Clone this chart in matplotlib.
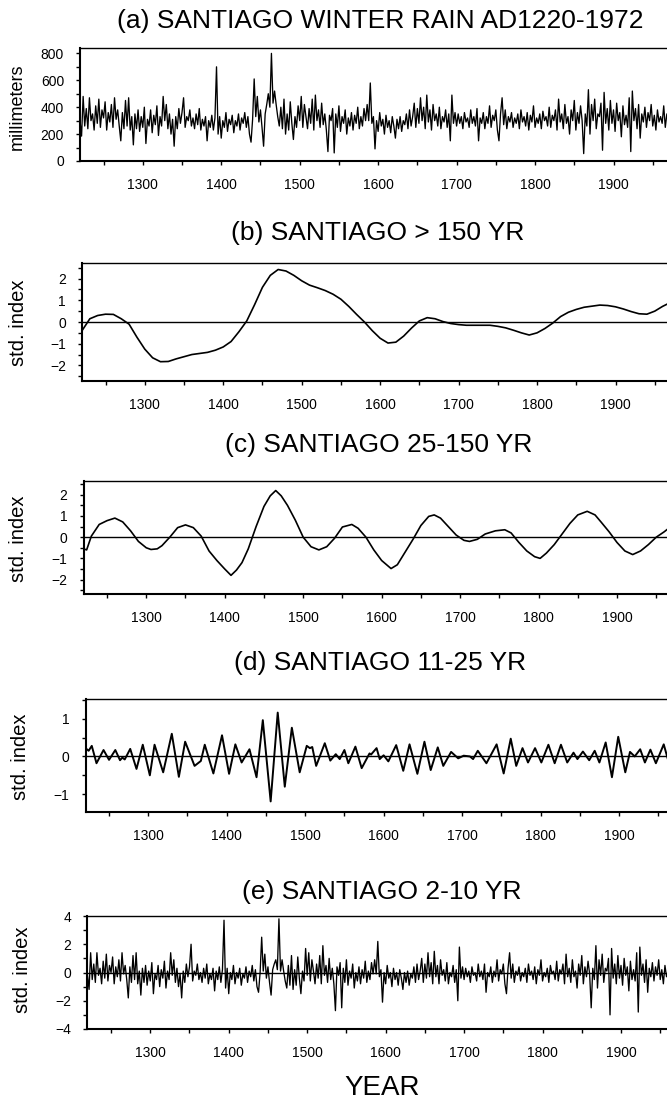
import numpy as np
import matplotlib.pyplot as plt
from matplotlib.ticker import MultipleLocator

plt.rcParams['font.family'] = ['Liberation Sans', 'DejaVu Sans']

# ---- data -------------------------------------------------------------
# (a) winter rain, mm, one value every second year from AD1220
rain_mm = [
    300, 185, 480, 260, 390, 240, 470, 300, 350, 230, 410, 280, 460, 250, 380, 320, 440, 230, 360, 290,
    420, 250, 470, 310, 380, 260, 150, 360, 240, 450, 260, 470, 230, 330, 120, 350, 240, 380, 220, 330,
    250, 400, 130, 310, 260, 380, 210, 340, 270, 410, 190, 330, 260, 480, 300, 420, 240, 350, 200, 310,
    110, 330, 240, 390, 280, 360, 470, 250, 330, 300, 380, 260, 320, 240, 350, 270, 390, 230, 310, 260,
    330, 150, 300, 250, 340, 230, 320, 700, 200, 330, 170, 300, 250, 360, 220, 310, 270, 340, 210, 300,
    260, 350, 230, 320, 280, 360, 250, 330, 200, 140, 310, 610, 330, 480, 290, 380, 250, 110, 350, 420,
    500, 400, 800, 430, 520, 420, 330, 260, 400, 240, 460, 200, 350, 230, 440, 280, 160, 330, 250, 410,
    300, 480, 250, 420, 330, 240, 390, 280, 460, 230, 490, 300, 380, 250, 430, 270, 350, 230, 70, 340,
    300, 390, 60, 350, 250, 410, 220, 330, 280, 380, 200, 320, 260, 360, 230, 340, 280, 400, 240, 330,
    260, 390, 300, 420, 300, 580, 280, 330, 90, 300, 220, 360, 260, 310, 200, 340, 250, 300, 210, 330,
    260, 170, 310, 240, 330, 220, 300, 270, 350, 240, 380, 260, 330, 430, 250, 390, 280, 470, 300, 400,
    240, 490, 290, 380, 230, 420, 300, 350, 260, 400, 240, 330, 290, 380, 250, 350, 150, 490, 280, 360,
    260, 350, 280, 330, 240, 360, 290, 320, 250, 380, 280, 330, 260, 390, 150, 320, 280, 360, 240, 330,
    280, 410, 250, 340, 300, 380, 230, 150, 350, 470, 270, 380, 240, 330, 290, 360, 250, 320, 280, 350,
    240, 380, 290, 330, 260, 360, 230, 340, 290, 410, 250, 320, 280, 350, 240, 370, 300, 330, 260, 400,
    250, 340, 300, 380, 230, 460, 290, 350, 240, 420, 280, 330, 200, 380, 300, 450, 230, 360, 280, 410,
    300, 55, 350, 260, 530, 200, 420, 300, 460, 240, 350, 330, 430, 80, 510, 280, 390, 230, 450, 280,
    380, 220, 430, 300, 360, 180, 410, 270, 340, 250, 470, 70, 520, 300, 390, 240, 420, 170, 350, 290,
    400, 250, 360, 300, 420, 260, 340, 230, 380, 290, 330, 280, 410, 250, 350, 300, 330,
]

# (b) > 150 yr component, every 10 years
low_years = list(range(1220, 1971, 10))
low_index = [
    -0.40, 0.15, 0.30, 0.36, 0.35, 0.15, -0.10, -0.70, -1.25, -1.65,
    -1.83, -1.82, -1.70, -1.60, -1.50, -1.45, -1.40, -1.30, -1.15, -0.90,
    -0.45, 0.05, 0.80, 1.60, 2.15, 2.42, 2.35, 2.15, 1.90, 1.70,
    1.58, 1.45, 1.28, 1.05, 0.72, 0.35, 0.00, -0.40, -0.75, -0.97,
    -0.93, -0.65, -0.28, 0.05, 0.20, 0.15, 0.02, -0.07, -0.12, -0.15,
    -0.15, -0.15, -0.15, -0.20, -0.27, -0.38, -0.50, -0.60, -0.50, -0.30,
    -0.05, 0.25, 0.45, 0.58, 0.68, 0.73, 0.78, 0.76, 0.70, 0.60,
    0.48, 0.38, 0.36, 0.50, 0.72, 0.90,
]

# (c) 25-150 yr component
mid_years = [
    1220, 1224, 1230, 1240, 1250, 1260, 1270, 1280, 1290, 1300, 1306, 1314, 1320, 1330, 1340,
    1350, 1360, 1370, 1380, 1390, 1400, 1408, 1415, 1422, 1430, 1440, 1450, 1458, 1465, 1472,
    1480, 1490, 1500, 1510, 1520, 1530, 1540, 1550, 1562, 1570, 1580, 1590, 1600, 1612, 1620,
    1630, 1640, 1650, 1660, 1667, 1675, 1685, 1695, 1705, 1712, 1722, 1732, 1745, 1757, 1765,
    1775, 1785, 1795, 1802, 1810, 1820, 1830, 1840, 1850, 1862, 1872, 1880, 1890, 1900, 1910,
    1920, 1930, 1940, 1950, 1960, 1972,
]
mid_index = [
    -0.55, -0.60, 0.05, 0.60, 0.78, 0.90, 0.72, 0.30, -0.20, -0.50, -0.58, -0.55, -0.40, 0.00, 0.45,
    0.58, 0.45, 0.05, -0.65, -1.10, -1.50, -1.80, -1.55, -1.20, -0.55, 0.50, 1.45, 1.95, 2.20, 1.95,
    1.50, 0.80, 0.00, -0.45, -0.60, -0.45, -0.05, 0.48, 0.60, 0.42, 0.00, -0.60, -1.10, -1.48, -1.30,
    -0.70, -0.10, 0.55, 0.98, 1.05, 0.90, 0.50, 0.10, -0.15, -0.20, -0.10, 0.15, 0.30, 0.35, 0.20,
    -0.25, -0.65, -0.92, -1.00, -0.75, -0.35, 0.15, 0.65, 1.05, 1.22, 1.05, 0.70, 0.25, -0.25, -0.65,
    -0.82, -0.65, -0.35, 0.00, 0.25, 0.60,
]

# (d) 11-25 yr component, turning points
dec_years = [
    1220, 1224, 1228, 1234, 1243, 1250, 1258, 1264, 1267, 1270, 1277, 1285, 1293, 1302, 1308,
    1319, 1330, 1339, 1347, 1359, 1367, 1372, 1383, 1394, 1403, 1411, 1419, 1429, 1438, 1446,
    1456, 1465, 1474, 1483, 1493, 1502, 1506, 1509, 1514, 1525, 1532, 1539, 1544, 1550, 1555,
    1564, 1572, 1582, 1584, 1586, 1591, 1595, 1600, 1606, 1616, 1625, 1633, 1643, 1652, 1660,
    1669, 1676, 1686, 1695, 1702, 1710, 1714, 1720, 1731, 1744, 1753, 1762, 1769, 1777, 1784,
    1793, 1801, 1810, 1818, 1826, 1834, 1842, 1847, 1854, 1862, 1869, 1875, 1883, 1891, 1899,
    1908, 1914, 1920, 1927, 1933, 1940, 1947, 1957, 1964, 1972,
]
dec_index = [
    0.22, 0.15, 0.28, -0.18, 0.17, -0.09, 0.17, -0.10, -0.03, -0.08, 0.20, -0.33, 0.31, -0.50, 0.31,
    -0.42, 0.60, -0.54, 0.39, -0.25, -0.12, 0.31, -0.45, 0.56, -0.46, 0.32, -0.16, 0.19, -0.55, 0.96,
    -1.19, 1.16, -0.80, 0.76, -0.42, 0.28, 0.22, 0.25, -0.25, 0.35, -0.11, 0.06, -0.07, 0.17, -0.18,
    0.26, -0.31, 0.08, 0.05, 0.10, 0.22, -0.07, 0.03, -0.13, 0.30, -0.38, 0.32, -0.46, 0.39, -0.36,
    0.24, -0.25, 0.12, -0.05, 0.02, 0.00, -0.07, 0.15, -0.18, 0.32, -0.45, 0.47, -0.25, 0.22, -0.16,
    0.22, -0.16, 0.31, -0.18, 0.31, -0.16, 0.10, -0.07, 0.13, -0.10, 0.15, -0.16, 0.37, -0.55, 0.52,
    -0.42, 0.12, 0.00, 0.19, -0.16, 0.18, -0.18, 0.32, -0.20, 0.15,
]

# (e) 2-10 yr component, every second year from AD1220
hi_index = [
    -0.2, -1.2, 1.4, -0.5, 0.6, -0.7, 1.4, -0.2, 0.3, -0.8, 0.8, -0.4, 1.3, -0.6, 0.5, 0.0, 1.1, -0.8, 0.4, -0.3,
    0.9, -0.6, 1.4, -0.1, 0.5, -0.5, -1.8, 0.4, -0.7, 1.2, -0.5, 1.4, -0.8, 0.1, -1.6, 0.3, -0.7, 0.5, -0.9, 0.1,
    -0.6, 0.7, -1.5, -0.1, -0.5, 0.5, -1.0, 0.2, -0.4, 0.8, -1.1, 0.1, -0.5, 1.4, -0.2, 0.9, -0.7, 0.3, -1.0, -0.1,
    -1.8, 0.1, -0.7, 0.6, -0.3, 0.4, 2.0, -0.6, 0.1, -0.2, 0.6, -0.5, 0.0, -0.7, 0.3, -0.4, 0.6, -0.8, -0.1, -0.5,
    0.3, -1.3, 0.1, -0.5, 0.4, -0.7, 0.2, 3.7, -1.1, 0.3, -1.5, 0.0, -0.5, 0.5, -0.8, 0.0, -0.4, 0.3, -0.9, -0.1,
    -0.4, 0.4, -0.7, 0.1, -0.3, 0.5, -0.6, 0.2, -1.0, -1.4, 0.0, 2.5, 0.1, 1.3, -0.4, 0.4, -0.7, -1.6, 0.2, 0.6,
    0.9, 0.2, 3.8, 0.1, 0.9, 0.1, -0.6, -1.1, 0.5, -0.9, 1.2, -1.2, 0.2, -0.9, 1.1, -0.4, -1.5, 0.1, -0.6, 1.7,
    -0.2, 1.4, -0.6, 0.9, 0.1, -0.8, 0.6, -0.4, 1.2, -0.8, 1.9, -0.2, 0.5, -0.7, 1.0, -0.5, 0.3, -0.8, -2.7, 0.4,
    -0.2, 0.7, -2.5, 0.3, -0.7, 0.9, -0.9, 0.1, -0.4, 0.6, -1.1, 0.0, -0.6, 0.4, -0.8, 0.2, -0.4, 0.8, -0.7, 0.1,
    -0.5, 0.7, -0.1, 0.9, -0.1, 2.2, -0.3, 0.2, -2.1, 0.0, -0.8, 0.5, -0.4, 0.0, -1.0, 0.3, -0.5, 0.0, -0.9, 0.2,
    -0.4, -1.2, 0.0, -0.7, 0.1, -0.9, -0.1, -0.4, 0.4, -0.7, 0.6, -0.5, 0.1, 1.0, -0.7, 0.6, -0.4, 1.4, -0.3, 0.7,
    -0.8, 1.5, -0.3, 0.5, -0.8, 0.9, -0.2, 0.2, -0.6, 0.7, -0.8, 0.0, -0.3, 0.5, -0.7, 0.2, -2.0, 1.8, -0.4, 0.4,
    -0.5, 0.3, -0.3, 0.1, -0.7, 0.4, -0.2, 0.0, -0.6, 0.6, -0.3, 0.1, -0.5, 0.6, -1.4, 0.0, -0.3, 0.4, -0.7, 0.1,
    -0.3, 0.9, -0.6, 0.2, -0.1, 0.6, -0.8, -1.5, 0.3, 1.4, -0.4, 0.6, -0.7, 0.1, -0.2, 0.4, -0.6, 0.0, -0.3, 0.3,
    -0.7, 0.6, -0.2, 0.1, -0.5, 0.4, -0.8, 0.2, -0.2, 0.9, -0.6, 0.0, -0.3, 0.3, -0.7, 0.5, -0.1, 0.1, -0.5, 0.8,
    -0.6, 0.2, -0.1, 0.6, -0.8, 1.3, -0.3, 0.3, -0.7, 0.9, -0.3, 0.1, -1.1, 0.6, -0.2, 1.2, -0.8, 0.4, -0.3, 0.8,
    -0.1, -2.5, 0.3, -0.5, 1.9, -1.1, 0.9, -0.2, 1.3, -0.7, 0.3, 0.1, 1.0, -3.0, 1.7, -0.4, 0.6, -0.8, 1.2, -0.4,
    0.5, -0.9, 1.0, -0.2, 0.4, -1.3, 0.8, -0.5, 0.2, -0.6, 1.4, -2.8, 1.8, -0.2, 0.6, -0.7, 0.9, -1.4, 0.3, -0.3,
    0.7, -0.6, 0.4, -0.2, 0.9, -0.5, 0.2, -0.8, 0.5, -0.3, 0.1, -0.4, 0.8, -0.6, 0.3, -0.2, 0.1,
]

annual_years = np.arange(1220, 1220 + 2 * len(rain_mm), 2)

# ---- layout (pixels) --------------------------------------------------
FIG_W, FIG_H = 667, 1100
AX_W = 590            # 1220..1972 at ~0.785 px per year


def add_panel(fig, left, top, bottom):
    ax = fig.add_axes([left / FIG_W, 1 - bottom / FIG_H, AX_W / FIG_W, (bottom - top) / FIG_H])
    ax.set_xlim(1220, 1972)
    ax.xaxis.set_major_locator(MultipleLocator(100))
    ax.xaxis.set_minor_locator(MultipleLocator(50))
    for side in ("left", "bottom"):
        ax.spines[side].set_linewidth(1.5)
    ax.spines["top"].set_linewidth(1.0)
    ax.spines["right"].set_linewidth(1.0)
    ax.tick_params(which="both", direction="out", length=3, width=1.0,
                   right=False, top=False, labelsize=10)
    ax.tick_params(axis="x", which="both", pad=9.5)
    ax.tick_params(axis="y", which="both", pad=8.5)
    return ax


def panel_title(fig, text, x_px, y_px):
    fig.text(x_px / FIG_W, 1 - y_px / FIG_H, text, ha="center", va="center", fontsize=19)


def side_label(fig, text, x_px, y_px, size=14.5):
    fig.text(x_px / FIG_W, 1 - y_px / FIG_H, text, ha="center", va="center",
             rotation=90, fontsize=size)


fig = plt.figure(figsize=(FIG_W / 100, FIG_H / 100), dpi=100)

# (a) raw series
ax = add_panel(fig, 80, 48, 161)
ax.plot(annual_years, rain_mm, color="black", lw=0.95)
ax.set_ylim(0, 840)
ax.yaxis.set_major_locator(MultipleLocator(200))
ax.yaxis.set_minor_locator(MultipleLocator(100))
panel_title(fig, "(a) SANTIAGO WINTER RAIN AD1220-1972", 380, 21)
side_label(fig, "millimeters", 17, 107, size=13)

# (b) low frequency
ax = add_panel(fig, 82, 263, 381)
ax.axhline(0, color="black", lw=1.0)
ax.plot(low_years, low_index, color="black", lw=1.2)
ax.set_ylim(-2.72, 2.72)
ax.yaxis.set_major_locator(MultipleLocator(1))
ax.yaxis.set_minor_locator(MultipleLocator(0.5))
panel_title(fig, "(b) SANTIAGO > 150 YR", 378, 233)
side_label(fig, "std. index", 18, 323)

# (c) multidecadal
ax = add_panel(fig, 83.5, 481, 594)
ax.axhline(0, color="black", lw=1.0)
ax.plot(mid_years, mid_index, color="black", lw=1.2)
ax.set_ylim(-2.68, 2.65)
ax.yaxis.set_major_locator(MultipleLocator(1))
ax.yaxis.set_minor_locator(MultipleLocator(0.5))
panel_title(fig, "(c) SANTIAGO 25-150 YR", 379, 445)
side_label(fig, "std. index", 18, 539)

# (d) decadal
ax = add_panel(fig, 85.5, 699, 812)
ax.axhline(0, color="black", lw=1.0)
ax.plot(dec_years, dec_index, color="black", lw=1.4, solid_joinstyle="round")
ax.set_ylim(-1.47, 1.52)
ax.yaxis.set_major_locator(MultipleLocator(1))
ax.yaxis.set_minor_locator(MultipleLocator(0.5))
panel_title(fig, "(d) SANTIAGO 11-25 YR", 380, 663)
side_label(fig, "std. index", 21, 757)

# (e) interannual
ax = add_panel(fig, 87.5, 916, 1029)
ax.axhline(0, color="black", lw=1.0)
ax.plot(annual_years, hi_index, color="black", lw=0.95)
ax.set_ylim(-4, 4)
ax.yaxis.set_major_locator(MultipleLocator(2))
ax.yaxis.set_minor_locator(MultipleLocator(1))
panel_title(fig, "(e) SANTIAGO 2-10 YR", 382, 892)
side_label(fig, "std. index", 22, 970)

fig.text(382 / FIG_W, 1 - 1088 / FIG_H, "YEAR", ha="center", va="center", fontsize=20)

fig.savefig("out.png", dpi=100)
